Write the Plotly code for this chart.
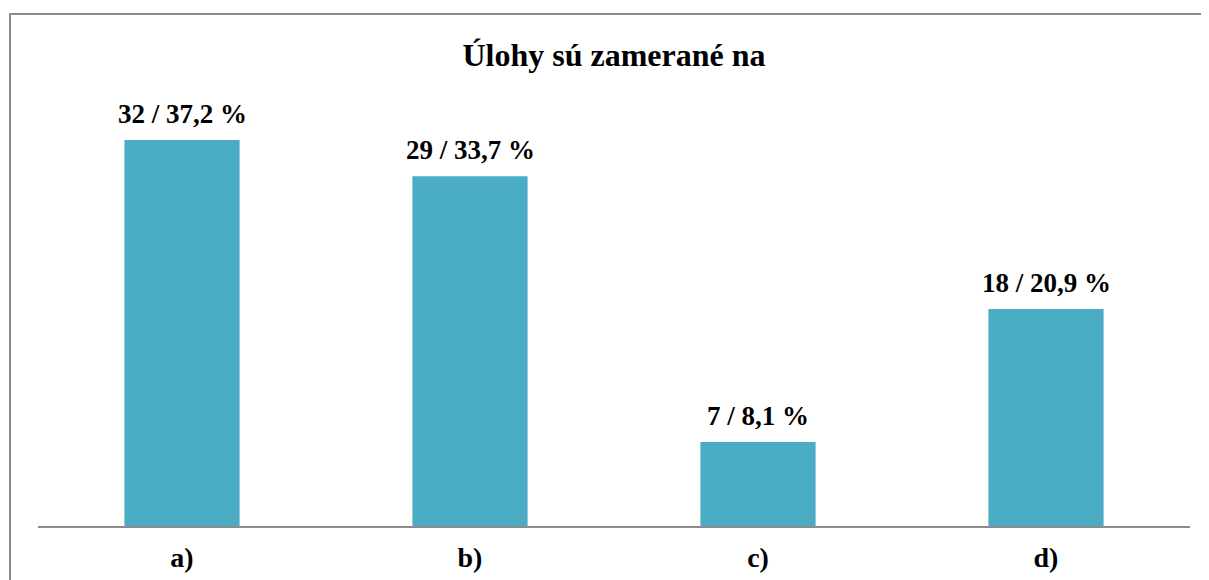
import plotly.graph_objects as go

categories = ["a)", "b)", "c)", "d)"]
counts = [32, 29, 7, 18]
percents = [37.2, 33.7, 8.1, 20.9]
title_text = "Úlohy sú zamerané na"

labels = [f"{c} / {str(p).replace('.', ',')} %" for c, p in zip(counts, percents)]

# page body has an 8px margin, so the figure is sized/offset accordingly
OFF = 8
W, H = 1209 - OFF, 580 - OFF
ml, mr, mt, mb = 38 - OFF, 19, 100 - OFF, 53.5
pw = W - ml - mr
ph = H - mt - mb
ymax = 37.2 * ph / (526.5 - 140)

FONT = "Liberation Serif, Times New Roman, serif"

fig = go.Figure(go.Bar(
    x=categories, y=percents,
    marker=dict(color="#4BACC6", line=dict(width=0)),
    hoverinfo="skip",
))

for cat, val, lab in zip(categories, percents, labels):
    fig.add_annotation(x=cat, y=val, text=lab, showarrow=False,
                       xanchor="center", yanchor="bottom", yshift=9,
                       font=dict(family=FONT, size=27, color="black", weight="bold"))

# outer border (cut by page edges on right/bottom)
bx0 = (10 - 38) / pw
by1 = (526.5 - 14) / ph
fig.add_shape(type="rect", xref="paper", yref="paper",
              x0=bx0, x1=1.2, y0=-0.5, y1=by1,
              line=dict(color="#8a8a8a", width=2), layer="below")

fig.update_layout(
    width=W, height=H,
    margin=dict(l=ml, r=mr, t=mt, b=mb, autoexpand=False),
    paper_bgcolor="white", plot_bgcolor="white",
    bargap=0.6,
    showlegend=False,
    title=dict(text=title_text, x=0.5, xref="paper", xanchor="center",
               y=1 - (55 - OFF) / H, yanchor="middle",
               font=dict(family=FONT, size=32, color="black", weight="bold")),
    xaxis=dict(showline=True, linecolor="#8c8c8c", linewidth=2,
               showgrid=False, ticks="", ticklabelstandoff=5, automargin=False,
               tickfont=dict(family=FONT, size=28, color="black", weight="bold")),
    yaxis=dict(range=[0, ymax], visible=False, showgrid=False, zeroline=False,
               automargin=False),
)

fig.write_html("out.html")
